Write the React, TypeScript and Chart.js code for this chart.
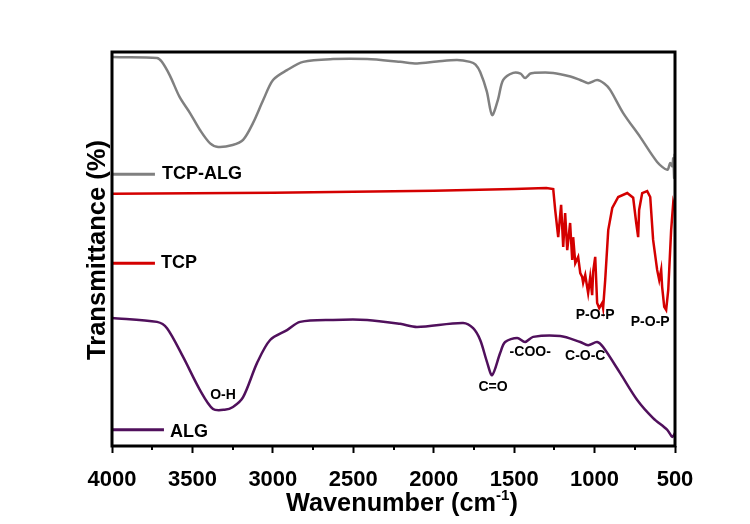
import React, { useEffect, useRef } from "react";
import { Chart, registerables } from "chart.js";

Chart.register(...registerables);

const FONT = '"Liberation Sans", Arial, Helvetica, sans-serif';

// FTIR spectra (wavenumber in cm-1, transmittance with per-curve vertical offset)
const tcpAlgWn = [4000, 3720, 3690, 3640, 3580, 3515, 3453, 3390, 3340, 3250, 3185, 3123, 3060, 2999, 2912, 2812, 2626, 2414, 2209, 2103, 1980, 1855, 1774, 1740, 1711, 1670, 1637, 1600, 1568, 1506, 1460, 1432, 1400, 1382, 1257, 1150, 1089, 1040, 984, 940, 903, 822, 716, 611, 548, 530, 517, 511, 505, 502, 500];
const tcpAlgT = [98.7, 98.5, 97.5, 94.0, 88.6, 84.5, 80.2, 76.8, 75.9, 76.4, 77.7, 82.0, 87.8, 92.9, 95.4, 97.5, 98.2, 98.2, 97.5, 97.1, 97.6, 98.0, 97.5, 96.8, 94.9, 90.0, 84.0, 88.0, 92.9, 94.7, 94.5, 93.4, 94.5, 94.7, 94.7, 93.8, 92.9, 92.1, 92.9, 92.0, 90.4, 84.5, 78.4, 72.1, 70.1, 71.8, 71.0, 73.0, 68.0, 74.0, 70.0];

const tcpWn = [4000, 3000, 2000, 1500, 1300, 1257, 1245, 1226, 1208, 1195, 1183, 1170, 1152, 1139, 1133, 1120, 1102, 1089, 1077, 1071, 1058, 1040, 1027, 1015, 1009, 996, 984, 971, 953, 947, 934, 915, 890, 853, 797, 760, 741, 729, 723, 704, 673, 654, 636, 611, 598, 586, 580, 567, 555, 542, 524, 511, 500];
const tcpT = [64.0, 64.3, 64.8, 65.2, 65.5, 65.2, 60.0, 53.0, 61.2, 50.5, 59.1, 49.7, 56.6, 47.2, 53.0, 46.4, 48.0, 43.9, 42.9, 41.4, 43.4, 38.8, 42.9, 38.3, 44.2, 48.0, 36.3, 35.0, 36.3, 35.0, 42.1, 54.8, 60.4, 63.2, 64.2, 63.0, 56.6, 53.0, 59.9, 64.2, 64.7, 63.2, 52.3, 44.7, 42.1, 44.7, 40.4, 35.3, 34.5, 39.6, 54.8, 61.7, 59.9];

const algWn = [4000, 3720, 3658, 3558, 3453, 3372, 3300, 3248, 3185, 3098, 3017, 2912, 2831, 2626, 2414, 2209, 2103, 1817, 1755, 1711, 1670, 1637, 1587, 1556, 1481, 1432, 1382, 1214, 1089, 1040, 984, 947, 841, 735, 636, 548, 517, 500];
const algT = [32.5, 31.5, 29.9, 22.6, 14.2, 9.4, 9.2, 9.9, 12.4, 21.1, 26.9, 29.4, 31.5, 32.0, 32.0, 31.0, 30.2, 31.2, 29.9, 26.9, 21.5, 18.0, 23.6, 26.4, 27.4, 26.4, 27.7, 27.9, 26.4, 25.6, 26.4, 25.1, 18.5, 11.7, 7.1, 4.1, 2.3, 3.3];

// Key lines drawn next to each curve name
const keyWn = [4000, 3733];
const keyWnAlg = [4000, 3677];
const keyTcpAlgT = [69.0, 69.0];
const keyTcpT = [46.4, 46.4];
const keyAlgT = [4.1, 4.1];

const seriesNames = ["TCP-ALG", "TCP", "ALG"];
const seriesNameWn = [3689, 3695, 3639];
const seriesNameT = [69.0, 46.4, 3.6];

const bandLabels = ["O-H", "C=O", "-COO-", "C-O-C", "P-O-P", "P-O-P"];
const bandWn = [3310, 1631, 1400, 1058, 996, 654];
const bandT = [12.9, 15.0, 23.9, 22.8, 33.2, 31.5];

const xTicks = [4000, 3500, 3000, 2500, 2000, 1500, 1000, 500];
const xMinorTicks = [3750, 3250, 2750, 2250, 1750, 1250, 750];

const GRAY = "#808080";
const RED = "#d40000";
const PURPLE = "#50105c";

const pts = (xs: number[], ys: number[]) => xs.map((x, i) => ({ x, y: ys[i] }));

// draws text horizontally stretched to a target width, centred on (0, 0)
function stretchedText(ctx: CanvasRenderingContext2D, parts: { t: string; size: number; dy: number }[], targetWidth: number) {
  const widths = parts.map((p) => {
    ctx.font = `bold ${p.size}px ${FONT}`;
    return ctx.measureText(p.t).width;
  });
  const total = widths.reduce((a, b) => a + b, 0);
  const k = targetWidth / total;
  ctx.save();
  ctx.scale(k, 1);
  let sx = -total / 2;
  parts.forEach((p, i) => {
    ctx.font = `bold ${p.size}px ${FONT}`;
    ctx.fillText(p.t, sx, p.dy);
    sx += widths[i];
  });
  ctx.restore();
}

const decorPlugin = {
  id: "decor",
  afterDraw(chart: any) {
    const { ctx, chartArea, scales } = chart;
    const { left, right, top, bottom } = chartArea;
    const x = scales.x;
    const y = scales.y;
    ctx.save();
    // plot frame
    ctx.strokeStyle = "#000";
    ctx.lineWidth = 3;
    ctx.strokeRect(left, top, right - left, bottom - top);
    // minor ticks
    ctx.lineWidth = 2;
    xMinorTicks.forEach((v) => {
      const px = Math.round(x.getPixelForValue(v));
      ctx.beginPath();
      ctx.moveTo(px, bottom);
      ctx.lineTo(px, bottom + 4);
      ctx.stroke();
    });
    ctx.fillStyle = "#000";
    // curve names
    ctx.font = `bold 18px ${FONT}`;
    ctx.textAlign = "left";
    ctx.textBaseline = "middle";
    seriesNames.forEach((s, i) => {
      ctx.fillText(s, x.getPixelForValue(seriesNameWn[i]), y.getPixelForValue(seriesNameT[i]));
    });
    // band assignments
    ctx.font = `bold 14px ${FONT}`;
    ctx.textAlign = "center";
    bandLabels.forEach((s, i) => {
      ctx.fillText(s, x.getPixelForValue(bandWn[i]), y.getPixelForValue(bandT[i]));
    });
    ctx.textAlign = "left";
    // y title
    ctx.save();
    ctx.translate(97, 250);
    ctx.rotate(-Math.PI / 2);
    ctx.textBaseline = "middle";
    stretchedText(ctx, [{ t: "Transmittance (%)", size: 25, dy: 1 }], 220);
    ctx.restore();
    // x title with superscript
    ctx.save();
    ctx.translate(402, 511);
    ctx.textBaseline = "alphabetic";
    stretchedText(
      ctx,
      [
        { t: "Wavenumber (cm", size: 25, dy: 0 },
        { t: "-1", size: 15, dy: -11 },
        { t: ")", size: 25, dy: 0 },
      ],
      232
    );
    ctx.restore();
    ctx.restore();
  },
};

export default function App() {
  const ref = useRef<HTMLCanvasElement | null>(null);

  useEffect(() => {
    if (!ref.current) return;
    const line = (data: { x: number; y: number }[], color: string, width = 2.5, tension = 0.3) => ({
      data,
      borderColor: color,
      borderWidth: width,
      pointRadius: 0,
      tension,
      fill: false,
    });
    const chart = new Chart(ref.current, {
      type: "line",
      data: {
        datasets: [
          line(pts(tcpAlgWn, tcpAlgT), GRAY),
          line(pts(tcpWn, tcpT), RED, 2.5, 0),
          line(pts(algWn, algT), PURPLE),
          line(pts(keyWn, keyTcpAlgT), GRAY, 3, 0),
          line(pts(keyWn, keyTcpT), RED, 3, 0),
          line(pts(keyWnAlg, keyAlgT), PURPLE, 3, 0),
        ] as any,
      },
      options: {
        animation: false,
        responsive: false,
        devicePixelRatio: 1,
        layout: { padding: { left: 112, top: 52, right: 75, bottom: 0 } },
        plugins: { legend: { display: false }, tooltip: { enabled: false } },
        scales: {
          x: {
            type: "linear",
            reverse: true,
            min: 500,
            max: 4000,
            afterFit: (s: any) => {
              s.height = 78;
            },
            afterBuildTicks: (s: any) => {
              s.ticks = xTicks.map((v) => ({ value: v }));
            },
            grid: {
              display: true,
              drawOnChartArea: false,
              drawTicks: true,
              tickLength: 7,
              tickWidth: 2,
              tickColor: "#000",
            },
            border: { display: false },
            ticks: {
              color: "#000",
              padding: 14,
              maxRotation: 0,
              font: { family: FONT, size: 22, weight: "bold" },
              callback: (v: any) => String(v),
            },
          },
          y: { type: "linear", display: false, min: 0, max: 100 },
        },
      } as any,
      plugins: [decorPlugin],
    });
    return () => chart.destroy();
  }, []);

  return (
    <div style={{ position: "absolute", left: 0, top: 0, width: 750, height: 524, background: "#fff" }}>
      <canvas ref={ref} width={750} height={524} />
    </div>
  );
}
